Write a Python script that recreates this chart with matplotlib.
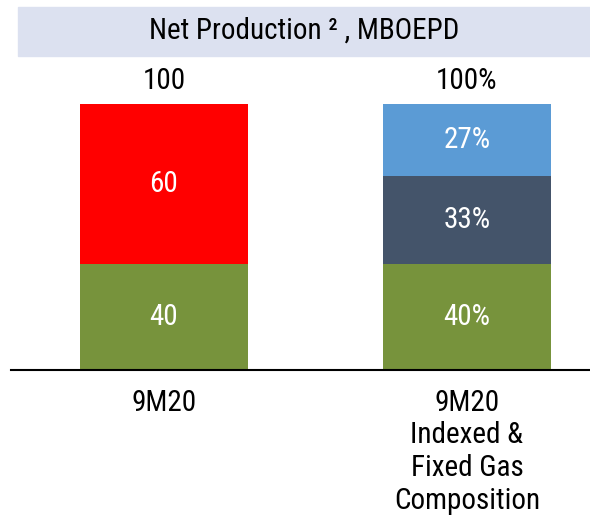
import matplotlib.pyplot as plt
from matplotlib.patches import Rectangle

categories = ['9M20', '9M20\nIndexed &\nFixed Gas\nComposition']
bottom_vals = [40, 40]
mid_vals = [0, 33]
top_vals = [60, 27]
bar1_labels = ['40', '60']
bar2_labels = ['40%', '33%', '27%']
totals = ['100', '100%']

plt.rcParams['font.family'] = ['Roboto Condensed', 'DejaVu Sans']

green = '#77933c'
red = '#ff0000'
slate = '#44546a'
blue = '#5b9bd5'

fig = plt.figure(figsize=(5.9, 5.18), dpi=100)
ax = fig.add_axes([0, (518 - 370) / 518, 1, (370 - 104) / 518])
ax.set_ylim(0, 100)
ax.set_xlim(-0.541, 1.406)
ax.axis('off')

x = [0, 1]
w = 0.555
ax.bar(x, bottom_vals, width=w, color=green)
ax.bar([1], [mid_vals[1]], bottom=[bottom_vals[1]], width=w, color=slate)
ax.bar([0], [top_vals[0]], bottom=[bottom_vals[0]], width=w, color=red)
ax.bar([1], [top_vals[1]], bottom=[bottom_vals[1] + mid_vals[1]], width=w, color=blue)

fs = 21
ax.text(0, bottom_vals[0] / 2, bar1_labels[0], ha='center', va='center', color='white', fontsize=fs)
ax.text(0, bottom_vals[0] + top_vals[0] / 2, bar1_labels[1], ha='center', va='center', color='white', fontsize=fs)
ax.text(1, bottom_vals[1] / 2, bar2_labels[0], ha='center', va='center', color='white', fontsize=fs)
ax.text(1, bottom_vals[1] + mid_vals[1] / 2, bar2_labels[1], ha='center', va='center', color='white', fontsize=fs)
ax.text(1, bottom_vals[1] + mid_vals[1] + top_vals[1] / 2, bar2_labels[2], ha='center', va='center', color='white', fontsize=fs)

for xi, t, b, m, tp in zip(x, totals, bottom_vals, mid_vals, top_vals):
    ax.text(xi, b + m + tp + 8.5, t, ha='center', va='center', color='black', fontsize=fs)

# baseline
ax.axhline(0, xmin=11 / 590, xmax=1, color='black', lw=1.5, clip_on=False)

for xi, c in zip(x, categories):
    ax.text(xi, -7, c, ha='center', va='top', fontsize=fs, linespacing=1.22)

# title box
fig.patches.append(Rectangle((18 / 590, 1 - 56 / 518), 1 - 18 / 590, 49 / 518,
                             transform=fig.transFigure, color='#dce1f0', zorder=0))
fig.text(304 / 590, 1 - 31 / 518, 'Net Production ² , MBOEPD', ha='center', va='center', fontsize=fs)

fig.savefig('out.png', dpi=100)
